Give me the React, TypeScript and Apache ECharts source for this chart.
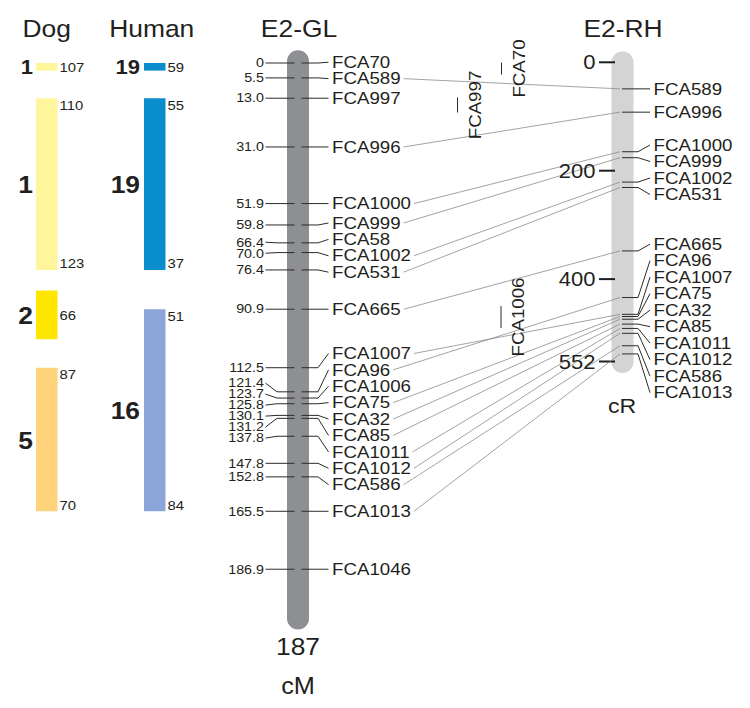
import React, { useEffect, useRef } from 'react';
import * as echarts from 'echarts';

// ---------------- data ----------------
const glMarkers = ['FCA70', 'FCA589', 'FCA997', 'FCA996', 'FCA1000', 'FCA999', 'FCA58', 'FCA1002', 'FCA531', 'FCA665', 'FCA1007', 'FCA96', 'FCA1006', 'FCA75', 'FCA32', 'FCA85', 'FCA1011', 'FCA1012', 'FCA586', 'FCA1013', 'FCA1046'];
const glPositions = [0, 5.5, 13.0, 31.0, 51.9, 59.8, 66.4, 70.0, 76.4, 90.9, 112.5, 121.4, 123.7, 125.8, 130.1, 131.2, 137.8, 147.8, 152.8, 165.5, 186.9];
const glPositionLabels = ['0', '5.5', '13.0', '31.0', '51.9', '59.8', '66.4', '70.0', '76.4', '90.9', '112.5', '121.4', '123.7', '125.8', '130.1', '131.2', '137.8', '147.8', '152.8', '165.5', '186.9'];
const glLength = 187;
const glTitle = 'E2-GL';
const glUnit = 'cM';

const rhMarkers = ['FCA589', 'FCA996', 'FCA1000', 'FCA999', 'FCA1002', 'FCA531', 'FCA665', 'FCA96', 'FCA1007', 'FCA75', 'FCA32', 'FCA85', 'FCA1011', 'FCA1012', 'FCA586', 'FCA1013'];
const rhPositions = [49, 92, 165, 176, 221, 231, 348, 434, 465, 469, 474, 483, 491, 500, 523, 538];
const rhTicks = [0, 200, 400, 552];
const rhLength = 552;
const rhTitle = 'E2-RH';
const rhUnit = 'cR';

const unplacedMarkers = ['FCA70', 'FCA997', 'FCA1006'];

const dogChromosomes = ['1', '1', '2', '5'];
const dogStartCM = [0, 13.0, 84, 112.5];
const dogEndCM = [2.8, 76.4, 102, 165.5];
const dogStartMb = ['107', '110', '66', '87'];
const dogEndMb = ['', '123', '', '70'];

const humanChromosomes = ['19', '19', '16'];
const humanStartCM = [0, 13.0, 90.9];
const humanEndCM = [2.8, 76.4, 165.5];
const humanStartMb = ['59', '55', '51'];
const humanEndMb = ['', '37', '84'];

// ---------------- styles / layout ----------------
const dogColors = ['#fff59b', '#fff59b', '#ffe600', '#ffd27c'];
const humanColors = ['#0a8dcd', '#0a8dcd', '#8ca5d8'];
const FONT = '"Liberation Sans", Arial, Helvetica, sans-serif';
const SX = 1.1;
const TXT = '#231f20';
const unplacedLayout = [
  { x: 519, y: 68.5, bar: 12 },
  { x: 475, y: 105, bar: 15 },
  { x: 518.5, y: 317, bar: 22 },
];

function spread(pos: number[], gap: number): number[] {
  const order = pos.map((_, i) => i).sort((a, b) => pos[a] - pos[b]);
  const clusters: { items: number[]; sum: number; top: number }[] = [];
  for (const i of order) {
    clusters.push({ items: [i], sum: pos[i], top: pos[i] });
    while (clusters.length > 1) {
      const b = clusters[clusters.length - 1];
      const a = clusters[clusters.length - 2];
      if (b.top - (a.top + (a.items.length - 1) * gap) < gap - 1e-6) {
        a.items.push(...b.items);
        a.sum += b.sum;
        a.top = a.sum / a.items.length - ((a.items.length - 1) * gap) / 2;
        clusters.pop();
      } else break;
    }
  }
  const out: number[] = new Array(pos.length);
  clusters.forEach((c) => c.items.forEach((idx, k) => (out[idx] = c.top + k * gap)));
  return out;
}

export default function App() {
  const ref = useRef<HTMLDivElement>(null);
  useEffect(() => {
    const chart = echarts.init(ref.current!, null, { renderer: 'svg' });
    chart.setOption({
      animation: false,
      grid: [
        { left: 0, right: 0, top: 63, height: 506.5, show: false },
        { left: 0, right: 0, top: 62.3, height: 299.2, show: false },
      ],
      xAxis: [
        { type: 'value', gridIndex: 0, min: 0, max: 750, show: false },
        { type: 'value', gridIndex: 1, min: 0, max: 750, show: false },
      ],
      yAxis: [
        { type: 'value', gridIndex: 0, min: 0, max: glLength, inverse: true, show: false },
        { type: 'value', gridIndex: 1, min: 0, max: rhLength, inverse: true, show: false },
      ],
      series: [],
    });
    const yGL = (v: number) => chart.convertToPixel({ yAxisIndex: 0 }, v) as unknown as number;
    const yRH = (v: number) => chart.convertToPixel({ yAxisIndex: 1 }, v) as unknown as number;

    const ctx = document.createElement('canvas').getContext('2d')!;
    const textW = (s: string, size: number) => {
      ctx.font = `${size}px ${FONT}`;
      return ctx.measureText(s).width * SX;
    };

    const bars: any[] = [];
    const lines: any[] = [];
    const texts: any[] = [];
    const text = (x: number, y: number, s: string, size: number, o: any = {}) =>
      texts.push({
        type: 'text', x, y, scaleX: SX, rotation: o.rotation || 0, silent: true,
        style: {
          text: s, fontSize: size, fontFamily: FONT, fontWeight: o.weight || 'normal', fill: TXT,
          align: o.align || 'left', textAlign: o.align || 'left',
          verticalAlign: 'middle', textVerticalAlign: 'middle',
        },
      });
    const line = (pts: number[][], stroke: string, lw: number) =>
      lines.push({ type: 'polyline', silent: true, shape: { points: pts }, style: { stroke, lineWidth: lw, fill: null } });
    const rect = (x: number, y: number, w: number, h: number, fill: string, r = 0) =>
      bars.push({ type: 'rect', silent: true, shape: { x, y, width: w, height: h, r }, style: { fill } });

    // titles (vertical centre on cap height, baseline ~37px)
    text(46.7, 28.5, 'Dog', 24, { align: 'center' });
    text(151.7, 28.5, 'Human', 24, { align: 'center' });
    text(299, 28.5, glTitle, 24, { align: 'center' });
    text(623, 28.5, rhTitle, 24, { align: 'center' });

    // dog / human segments
    const drawSegments = (x: number, chroms: string[], s: number[], e: number[], sMb: string[], eMb: string[], colors: string[], chrRight: number) => {
      chroms.forEach((c, i) => {
        const y0 = yGL(s[i]);
        const y1 = yGL(e[i]);
        rect(x, y0, 21.5, y1 - y0, colors[i]);
        const mid = (y0 + y1) / 2;
        const small = y1 - y0 < 20;
        text(chrRight, mid + 0.5, c, small ? 20 : 24, { align: 'right', weight: 'bold' });
        if (eMb[i]) {
          text(x + 23.5, y0 + 7, sMb[i], 13.5);
          text(x + 23.5, y1 - 6.5, eMb[i], 13.5);
        } else {
          text(x + 23.5, mid, sMb[i], 13.5);
        }
      });
    };
    drawSegments(36, dogChromosomes, dogStartCM, dogEndCM, dogStartMb, dogEndMb, dogColors, 33);
    drawSegments(144, humanChromosomes, humanStartCM, humanEndCM, humanStartMb, humanEndMb, humanColors, 140);

    // GL chromosome
    const gl0 = yGL(0);
    const glEnd = yGL(glLength);
    rect(287, gl0 - 12.8, 22, glEnd + 60 - (gl0 - 12.8), '#8e8f93', 11);
    const glPx = glPositions.map(yGL);
    const glRightY = spread(glPx, 16.4);
    const glLeftY = spread(glPx, 11);
    glMarkers.forEach((m, i) => {
      const my = glPx[i];
      line([[265.5, glLeftY[i]], [277, my], [294.5, my]], '#2b2b2b', 1);
      line([[301.5, my], [318, my], [328.5, glRightY[i]]], '#2b2b2b', 1);
      text(264, glLeftY[i], glPositionLabels[i], 13, { align: 'right' });
      text(332, glRightY[i], m, 17);
    });
    text(298, 646, String(glLength), 24, { align: 'center' });
    text(298, 686, glUnit, 23, { align: 'center' });

    // RH chromosome
    const rh0 = yRH(0);
    const rhEnd = yRH(rhLength);
    rect(611.5, rh0 - 10.8, 22, rhEnd + 11.5 - (rh0 - 10.8), '#d4d4d6', 11);
    rhTicks.forEach((t) => {
      const y = yRH(t);
      line([[599, y], [615, y]], '#1e1e1e', 2);
      text(595.5, y, String(t), 20, { align: 'right' });
    });
    const rhPx = rhPositions.map(yRH);
    const rhY = spread(rhPx, 16.5);
    rhMarkers.forEach((m, i) => {
      const my = rhPx[i];
      line([[622, my], [638, my], [650, rhY[i]]], '#2b2b2b', 1);
      text(653.5, rhY[i], m, 17);
      const gi = glMarkers.indexOf(m);
      if (gi >= 0) {
        const x0 = 332 + textW(m, 17) + 3;
        line([[x0, glRightY[gi]], [620, my]], '#8c8c8c', 0.8);
      }
    });
    text(622, 406, rhUnit, 21, { align: 'center' });

    // markers not placed on the RH map
    unplacedMarkers.forEach((m, i) => {
      const L = unplacedLayout[i];
      text(L.x, L.y, m, 17, { align: 'center', rotation: Math.PI / 2 });
      line([[L.x - 17.5, L.y - L.bar / 2], [L.x - 17.5, L.y + L.bar / 2]], '#2b2b2b', 1);
    });

    chart.setOption({ graphic: { elements: [...bars, ...lines, ...texts] } });
    return () => chart.dispose();
  }, []);
  return <div ref={ref} style={{ position: 'absolute', left: 0, top: 0, width: 750, height: 708, background: '#fff' }} />;
}
